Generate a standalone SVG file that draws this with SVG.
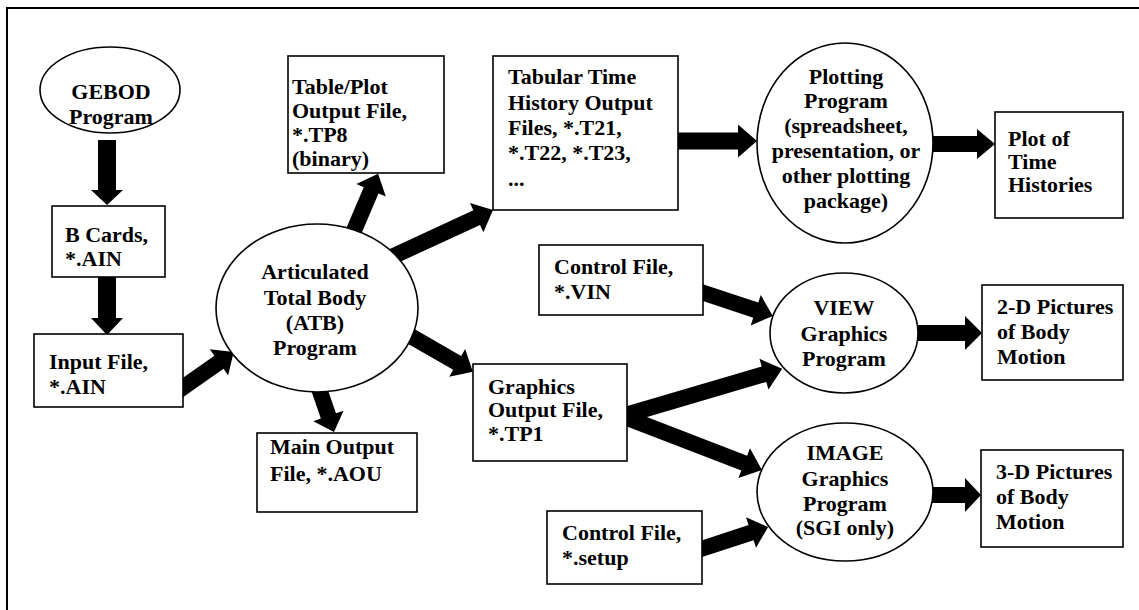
<svg xmlns="http://www.w3.org/2000/svg" width="1139" height="610" viewBox="0 0 1139 610">
<style>
  .n { fill: #fff; stroke: #000; stroke-width: 1.6; }
  .t { font-family: "Liberation Serif", "Times New Roman", serif; font-weight: bold; font-size: 22px; fill: #000; }
  .c { text-anchor: middle; }
  .a { fill: #000; stroke: none; }
  .frame { stroke: #000; stroke-width: 2; fill: none; }
</style>
<rect x="0" y="0" width="1139" height="610" fill="#fff"/>
<path class="frame" d="M7,610 L7,8 L1139,8"/>

<g id="connectors">
  <!-- GEBOD -> B Cards -->
  <path class="a" transform="translate(107,140) rotate(90)" d="M0,-9 L50,-9 L50,-16 L65,0 L50,16 L50,9 L0,9 Z"/>
  <!-- B Cards -> Input -->
  <path class="a" transform="translate(107,272) rotate(90)" d="M0,-9 L46,-9 L46,-16 L63,0 L46,16 L46,9 L0,9 Z"/>
  <!-- Input -> ATB -->
  <path class="a" transform="translate(178,391) rotate(-35)" d="M0,-8 L50,-8 L50,-16 L68,0 L50,16 L50,8 L0,8 Z"/>
  <!-- ATB -> Main Output -->
  <path class="a" transform="translate(316,380) rotate(70.9)" d="M0,-8 L38,-8 L38,-16 L55,0 L38,16 L38,8 L0,8 Z"/>
  <!-- ATB -> Graphics -->
  <path class="a" transform="translate(400,330) rotate(29.9)" d="M0,-8 L66,-8 L66,-16 L84,0 L66,16 L66,8 L0,8 Z"/>
  <!-- ATB -> Table/Plot -->
  <path class="a" transform="translate(350,240) rotate(-67)" d="M0,-8 L54,-8 L54,-16 L72,0 L54,16 L54,8 L0,8 Z"/>
  <!-- ATB -> Tabular -->
  <path class="a" transform="translate(385,260) rotate(-24.8)" d="M0,-8 L101,-8 L101,-16 L119,0 L101,16 L101,8 L0,8 Z"/>
  <!-- Tabular -> Plotting -->
  <path class="a" transform="translate(670,141)" d="M0,-8.5 L68,-8.5 L68,-16.5 L87,0 L68,16.5 L68,8.5 L0,8.5 Z"/>
  <!-- Plotting -> Plot of -->
  <path class="a" transform="translate(925,144)" d="M0,-8 L52,-8 L52,-15 L70,0 L52,15 L52,8 L0,8 Z"/>
  <!-- Control VIN -> VIEW -->
  <path class="a" transform="translate(695,290) rotate(18.4)" d="M0,-8 L64,-8 L64,-16 L82,0 L64,16 L64,8 L0,8 Z"/>
  <!-- Graphics -> VIEW -->
  <path class="a" transform="translate(622,416) rotate(-16.4)" d="M0,-8 L148,-8 L148,-16 L167,0 L148,16 L148,8 L0,8 Z"/>
  <!-- Graphics -> IMAGE -->
  <path class="a" transform="translate(622,416) rotate(21.1)" d="M0,-8 L131,-8 L131,-16 L150,0 L131,16 L131,8 L0,8 Z"/>
  <!-- Control setup -> IMAGE -->
  <path class="a" transform="translate(695,551) rotate(-18.2)" d="M0,-8 L59,-8 L59,-16 L77,0 L59,16 L59,8 L0,8 Z"/>
  <!-- VIEW -> 2-D -->
  <path class="a" transform="translate(910,333)" d="M0,-8 L55,-8 L55,-17 L72,0 L55,17 L55,8 L0,8 Z"/>
  <!-- IMAGE -> 3-D -->
  <path class="a" transform="translate(925,495)" d="M0,-8 L40,-8 L40,-17 L56,0 L40,17 L40,8 L0,8 Z"/>
</g>

<g id="gebod">
  <ellipse class="n" cx="110" cy="90" rx="70" ry="43"/>
  <text class="t c" x="111" y="99">GEBOD</text>
  <text class="t c" x="111" y="124">Program</text>
</g>

<g id="bcards">
  <rect class="n" x="52" y="206" width="113" height="71"/>
  <text class="t" x="65" y="242">B Cards,</text>
  <text class="t" x="65" y="266">*.AIN</text>
</g>

<g id="input">
  <rect class="n" x="34" y="334" width="149" height="73"/>
  <text class="t" x="49" y="369">Input File,</text>
  <text class="t" x="49" y="394">*.AIN</text>
</g>

<g id="atb">
  <ellipse class="n" cx="317" cy="308" rx="101" ry="84"/>
  <text class="t c" x="315" y="279">Articulated</text>
  <text class="t c" x="315" y="305">Total Body</text>
  <text class="t c" x="315" y="330">(ATB)</text>
  <text class="t c" x="315" y="355">Program</text>
</g>

<g id="tableplot">
  <rect class="n" x="288" y="56" width="156" height="117"/>
  <text class="t" x="292" y="94">Table/Plot</text>
  <text class="t" x="292" y="118">Output File,</text>
  <text class="t" x="292" y="142">*.TP8</text>
  <text class="t" x="292" y="166">(binary)</text>
</g>

<g id="mainoutput">
  <rect class="n" x="257" y="433" width="160" height="79"/>
  <text class="t" x="270" y="454">Main Output</text>
  <text class="t" x="270" y="481">File, *.AOU</text>
</g>

<g id="tabular">
  <rect class="n" x="493" y="56" width="185" height="154"/>
  <text class="t" x="508" y="84">Tabular Time</text>
  <text class="t" x="508" y="110">History Output</text>
  <text class="t" x="508" y="135">Files, *.T21,</text>
  <text class="t" x="508" y="160">*.T22, *.T23,</text>
  <text class="t" x="508" y="186">...</text>
</g>

<g id="graphics">
  <rect class="n" x="473" y="364" width="154" height="97"/>
  <text class="t" x="488" y="394">Graphics</text>
  <text class="t" x="488" y="417">Output File,</text>
  <text class="t" x="488" y="441">*.TP1</text>
</g>

<g id="controlvin">
  <rect class="n" x="539" y="245" width="164" height="70"/>
  <text class="t" x="554" y="274">Control File,</text>
  <text class="t" x="554" y="299">*.VIN</text>
</g>

<g id="controlsetup">
  <rect class="n" x="547" y="511" width="155" height="73"/>
  <text class="t" x="562" y="540">Control File,</text>
  <text class="t" x="562" y="565">*.setup</text>
</g>

<g id="plotting">
  <ellipse class="n" cx="845" cy="143" rx="88" ry="100"/>
  <text class="t c" x="846" y="84">Plotting</text>
  <text class="t c" x="846" y="108">Program</text>
  <text class="t c" x="846" y="133">(spreadsheet,</text>
  <text class="t c" x="846" y="158">presentation, or</text>
  <text class="t c" x="846" y="183">other plotting</text>
  <text class="t c" x="846" y="208">package)</text>
</g>

<g id="plotof">
  <rect class="n" x="995" y="112" width="128" height="106"/>
  <text class="t" x="1008" y="146">Plot of</text>
  <text class="t" x="1008" y="169">Time</text>
  <text class="t" x="1008" y="192">Histories</text>
</g>

<g id="view">
  <ellipse class="n" cx="844" cy="333" rx="74" ry="60"/>
  <text class="t c" x="844" y="315">VIEW</text>
  <text class="t c" x="844" y="341">Graphics</text>
  <text class="t c" x="844" y="366">Program</text>
</g>

<g id="pictures2d">
  <rect class="n" x="982" y="285" width="141" height="95"/>
  <text class="t" x="997" y="314">2-D Pictures</text>
  <text class="t" x="997" y="339">of Body</text>
  <text class="t" x="997" y="364">Motion</text>
</g>

<g id="image">
  <ellipse class="n" cx="845" cy="492" rx="88" ry="69"/>
  <text class="t c" x="845" y="460">IMAGE</text>
  <text class="t c" x="845" y="486">Graphics</text>
  <text class="t c" x="845" y="511">Program</text>
  <text class="t c" x="845" y="535">(SGI only)</text>
</g>

<g id="pictures3d">
  <rect class="n" x="981" y="450" width="142" height="97"/>
  <text class="t" x="996" y="479">3-D Pictures</text>
  <text class="t" x="996" y="504">of Body</text>
  <text class="t" x="996" y="529">Motion</text>
</g>
</svg>
